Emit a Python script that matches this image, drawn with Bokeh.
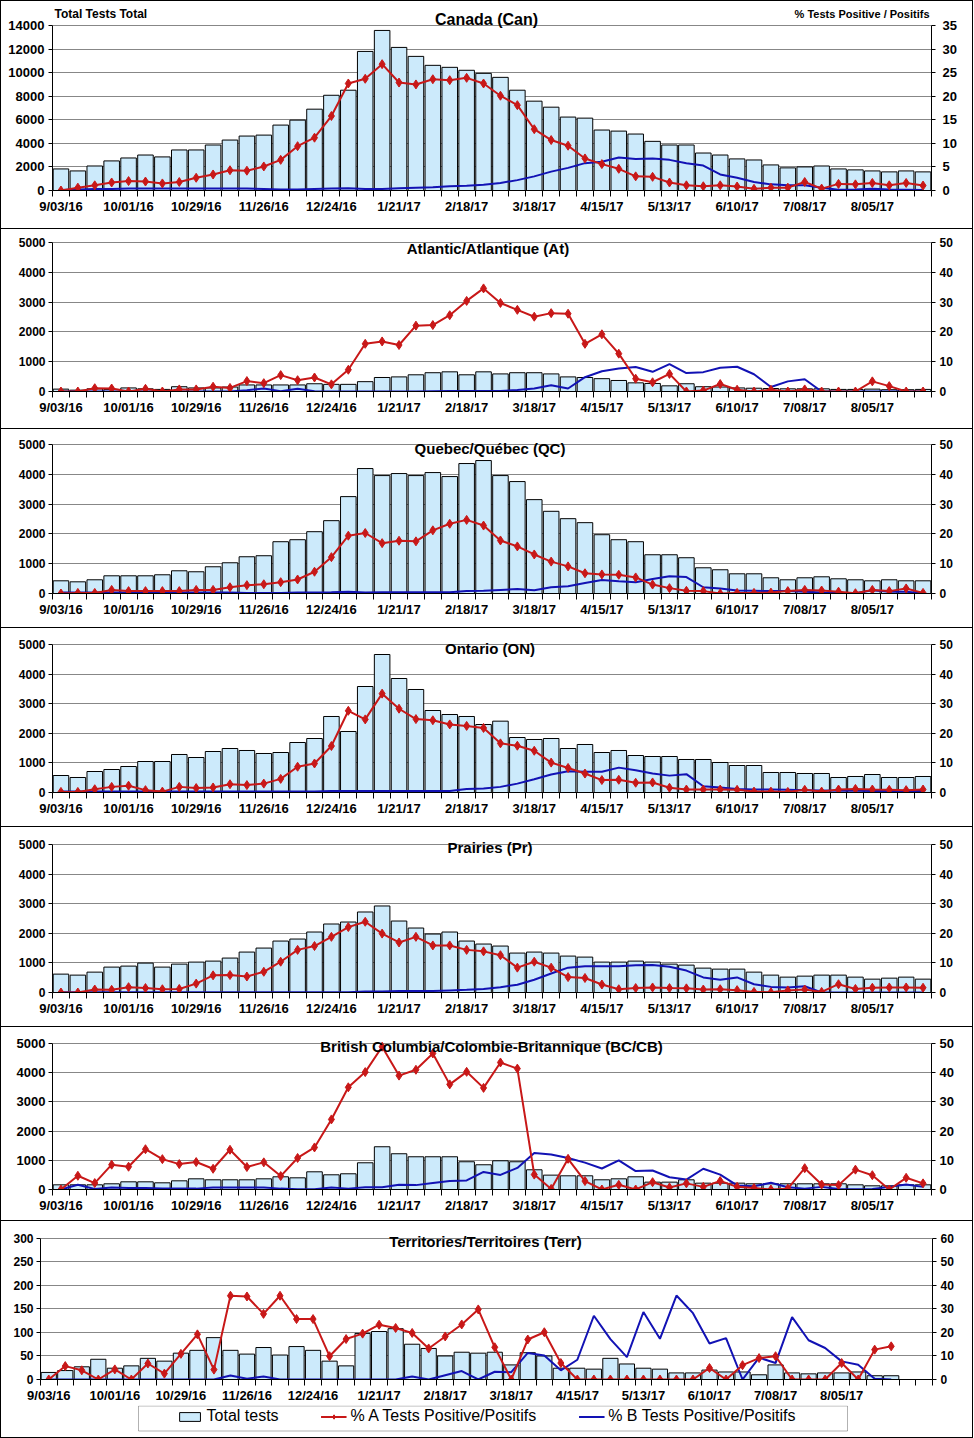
from bokeh.plotting import figure
from bokeh.models import (Range1d, LinearAxis, FixedTicker, SingleIntervalTicker,
                          Label, Legend, LegendItem, BoxAnnotation)
from bokeh.layouts import column
from bokeh.embed import file_html
from bokeh.resources import INLINE

# ---------------- data ----------------
tick_weeks = [0, 4, 8, 12, 16, 20, 24, 28, 32, 36, 40, 44, 48]
tick_labels = ["9/03/16", "10/01/16", "10/29/16", "11/26/16", "12/24/16", "1/21/17",
               "2/18/17", "3/18/17", "4/15/17", "5/13/17", "6/10/17", "7/08/17", "8/05/17"]

can_total = [1830, 1660, 2080, 2510, 2760, 3010, 2850, 3440, 3440, 3860, 4280, 4620, 4700,
             5550, 5970, 6900, 8080, 8510, 11800, 13580, 12140, 11380, 10620, 10450, 10200,
             9940, 9600, 8510, 7580, 7070, 6230, 6140, 5130, 5040, 4790, 4170, 3860, 3860,
             3180, 3010, 2680, 2590, 2170, 1920, 2000, 2080, 1830, 1750, 1660, 1580, 1660, 1580]
can_a = [0, 0.6, 1.1, 1.7, 2.0, 1.9, 1.5, 1.8, 2.7, 3.4, 4.3, 4.2, 5.1, 6.5, 9.4, 11.2, 15.8,
         22.7, 23.7, 26.8, 22.9, 22.5, 23.6, 23.4, 23.9, 22.7, 20.1, 18.1, 13.0, 10.7, 9.5,
         6.8, 5.6, 4.6, 3.0, 2.9, 1.7, 1.1, 0.9, 1.1, 0.85, 0.35, 0.6, 0.6, 1.8, 0.4, 1.4,
         1.3, 1.6, 1.1, 1.6, 1.05]
can_b = [0.1, 0.2, 0.3, 0.3, 0.4, 0.4, 0.4, 0.4, 0.4, 0.4, 0.4, 0.4, 0.3, 0.2, 0.2, 0.3, 0.4,
         0.5, 0.3, 0.3, 0.5, 0.6, 0.7, 0.9, 1.0, 1.2, 1.6, 2.2, 3.0, 4.0, 4.8, 5.8, 6.1, 7.0,
         6.7, 6.8, 6.5, 5.8, 5.3, 3.4, 2.7, 1.8, 1.3, 1.1, 1.1, 0.6, 0.15, 0.2, 0.35, 0.2,
         0.15, 0.1]

at_total = [80, 45, 90, 70, 120, 90, 70, 160, 120, 120, 150, 220, 220, 220, 220, 260, 240, 240,
            330, 470, 490, 560, 630, 660, 560, 660, 590, 630, 630, 590, 490, 470, 430, 370, 290,
            270, 190, 260, 160, 150, 120, 110, 100, 90, 90, 90, 70, 70, 80, 60, 60, 70]
at_a = [0, 0, 1.1, 1.0, 0, 0.9, 0, 0.7, 0.7, 1.6, 1.2, 3.5, 2.8, 5.5, 3.8, 4.7, 2.4, 7.3, 16.0,
        16.8, 15.6, 22.1, 22.3, 25.6, 30.4, 34.6, 29.7, 27.4, 25.1, 26.3, 26.1, 16.0, 19.2,
        12.7, 4.3, 3.1, 5.9, 0, 0.3, 2.5, 0.6, 0, 0.6, 0, 0.7, 0, 0, 0, 3.4, 1.8, 0, 0]
at_b = [0, 0, 0, 0, 0, 0, 0, 0, 0, 0, 0, 0.4, 1.0, 0.1, 0.9, 0.1, 0, 0, 0, 0, 0, 0, 0.1, 0.2,
        0.2, 0.2, 0.2, 0.5, 1.0, 2.1, 1.0, 4.8, 6.8, 7.7, 8.2, 6.6, 9.2, 6.2, 6.5, 8.0, 8.3,
        5.8, 1.5, 3.4, 4.1, 0, 0, 0, 0, 0, 0, 0]

qc_total = [426, 392, 460, 594, 594, 594, 628, 762, 729, 897, 1031, 1233, 1267, 1738, 1805,
            2074, 2444, 3251, 4193, 3957, 4025, 3957, 4058, 3924, 4361, 4462, 3957, 3756, 3150,
            2758, 2511, 2377, 1973, 1805, 1738, 1300, 1300, 1200, 863, 796, 661, 661, 527, 460,
            527, 560, 493, 460, 426, 460, 426, 426]
qc_a = [0, 0.2, 0.2, 1.2, 0.8, 0.8, 0.8, 0.8, 1.2, 1.2, 2.1, 2.8, 3.1, 3.8, 4.7, 7.3, 12.2,
        19.4, 20.3, 16.9, 17.7, 17.5, 21.2, 23.4, 24.7, 22.8, 17.8, 15.8, 13.1, 10.7, 9.1, 6.8,
        6.4, 6.3, 5.4, 3.0, 1.8, 0.9, 0.8, 0, 0.2, 0.2, 0.3, 0.8, 1.2, 1.0, 0.6, 0.1, 1.2, 0.8,
        1.7, 0.2]
qc_b = [0.3, 0.3, 0.3, 0.3, 0.3, 0.3, 0.3, 0.3, 0.3, 0.3, 0.3, 0.2, 0.2, 0.2, 0.3, 0.3, 0.4,
        0.6, 0.3, 0.4, 0.4, 0.4, 0.4, 0.4, 0.8, 0.9, 1.2, 1.5, 1.1, 2.1, 2.4, 3.5, 4.5, 4.1,
        3.8, 4.9, 5.8, 5.5, 2.1, 1.7, 1.0, 0.9, 0.8, 0.8, 0.6, 0.3, 0.2, 0.1, 1.1, 0.6, 0.6, 0.1]

on_total = [574, 507, 709, 777, 878, 1047, 1047, 1284, 1182, 1385, 1486, 1419, 1318, 1351,
            1689, 1824, 2568, 2061, 3581, 4662, 3851, 3480, 2770, 2635, 2568, 2297, 2410, 1858,
            1791, 1824, 1486, 1622, 1351, 1419, 1250, 1216, 1216, 1115, 1115, 1014, 912, 912,
            676, 676, 642, 642, 507, 541, 608, 507, 507, 541]
on_a = [0.2, 0.2, 1.1, 1.9, 2.3, 0.8, 0.3, 1.9, 1.5, 1.7, 2.8, 2.5, 3.0, 4.6, 8.7, 9.8, 15.7,
        27.6, 24.7, 33.4, 28.3, 24.8, 24.4, 23.0, 22.5, 21.8, 16.6, 15.8, 14.1, 10.1, 8.3, 6.4,
        4.2, 4.3, 3.3, 3.4, 1.6, 1.0, 1.0, 1.0, 0.9, 0.3, 0.3, 0.2, 0.9, 0.3, 1.0, 1.2, 1.0,
        0.9, 0.8, 1.0]
on_b = [0.3, 0.3, 0.3, 0.3, 0.3, 0.3, 0.3, 0.3, 0.3, 0.3, 0.3, 0.3, 0.3, 0.3, 0.3, 0.3, 0.5,
        0.5, 0.5, 0.5, 0.5, 0.5, 0.5, 0.5, 1.2, 1.35, 1.9, 3.0, 4.5, 6.1, 7.2, 7.0, 7.0, 8.4,
        7.5, 6.4, 5.7, 6.2, 2.1, 1.7, 1.2, 1.0, 1.0, 0.9, 0.8, 0.7, 0.6, 0.6, 0.5, 0.5, 0.5, 0.5]

pr_total = [621, 587, 688, 858, 892, 993, 858, 959, 1027, 1061, 1163, 1366, 1501, 1738, 1806,
            2043, 2314, 2381, 2720, 2923, 2415, 2178, 1975, 2043, 1738, 1637, 1569, 1332, 1366,
            1332, 1230, 1196, 1027, 1027, 1061, 1027, 959, 925, 824, 790, 790, 688, 587, 519,
            553, 587, 587, 519, 451, 485, 519, 451]
pr_a = [0, 0, 1.0, 0.9, 1.8, 1.5, 1.1, 1.2, 3.0, 5.8, 5.9, 5.4, 7.0, 10.4, 14.4, 15.7, 18.8,
        22.1, 23.9, 19.9, 16.9, 18.8, 15.9, 15.9, 14.4, 13.9, 12.6, 8.4, 10.4, 8.4, 5.2, 4.9,
        2.7, 1.1, 1.5, 1.7, 1.5, 1.4, 1.0, 1.1, 0.8, 0.2, 0.1, 0.7, 1.0, 0.2, 2.8, 1.2, 1.6,
        1.7, 1.7, 1.6]
pr_b = [0.1, 0.1, 0.1, 0.1, 0.1, 0.1, 0.1, 0.1, 0.1, 0.1, 0.1, 0.1, 0.1, 0.1, 0.1, 0.1, 0.1,
        0.1, 0.3, 0.3, 0.5, 0.5, 0.5, 0.7, 0.9, 1.2, 1.8, 2.6, 4.3, 6.4, 8.4, 8.9, 8.9, 8.9,
        9.2, 9.3, 8.7, 7.4, 5.1, 4.3, 5.1, 2.8, 1.9, 1.7, 2.1, 0, 0, 0, 0, 0, 0, 0]

bc_total = [160, 160, 160, 195, 263, 263, 229, 297, 366, 332, 332, 332, 366, 435, 400, 606,
            503, 538, 915, 1464, 1224, 1121, 1121, 1121, 950, 847, 984, 950, 675, 492, 469, 469,
            332, 366, 435, 252, 252, 332, 217, 217, 217, 195, 195, 195, 195, 195, 195, 160, 126,
            126, 160, 160]
bc_a = [0, 4.7, 2.2, 8.5, 7.8, 13.8, 10.4, 8.7, 9.4, 7.1, 13.6, 7.7, 9.3, 4.6, 10.8, 14.4,
        24.0, 35.0, 40.2, 48.9, 39.0, 41.0, 46.6, 36.0, 40.3, 34.8, 43.5, 41.4, 5.1, 0.2, 10.5,
        2.9, 0, 1.6, 0, 2.5, 0.7, 2.1, 0.9, 2.9, 0.9, 0.5, 0, 0.3, 7.3, 1.7, 1.5, 6.8, 4.9, 0,
        4.0, 2.1]
bc_b = [0, 1.6, 0.2, 0.7, 0.5, 0.5, 0.3, 0.3, 0.3, 0.7, 0.7, 0.7, 0.7, 0.3, 0.1, 0.1, 0.7,
        0.3, 0.8, 0.8, 1.6, 1.5, 2.2, 2.9, 3.1, 6.0, 5.0, 7.4, 12.5, 12.0, 10.8, 9.2, 7.2, 10.0,
        6.3, 6.5, 4.2, 3.4, 7.1, 5.1, 1.4, 1.1, 2.3, 0.8, 0.3, 0.9, 0.2, 0.1, 0.2, 0.9, 1.7, 0.9]

terr_total = [15, 19, 27, 43, 24, 29, 45, 39, 56, 62, 89, 62, 54, 68, 52, 70, 62, 39, 29, 98,
              102, 108, 75, 66, 50, 58, 56, 58, 31, 57, 50, 24, 24, 22, 45, 33, 24, 22, 14, 14,
              20, 16, 16, 10, 31, 14, 12, 14, 14, 16, 8, 8]
terr_a = [0, 5.7, 3.9, 0, 4.3, 0, 6.8, 2.5, 10.9, 19.2, 4.2, 35.6, 35.3, 27.9, 35.6, 25.7,
          25.7, 9.9, 17.2, 19.5, 23.3, 21.9, 19.8, 13.2, 18.3, 23.4, 29.8, 13.7, 0, 17.0, 20.1,
          7.0, 0, 0, 0, 0, 0, 0, 0, 0, 4.9, 0, 6.1, 9.1, 9.9, 0, 0, 0, 7.0, 0, 12.7, 14.1]
terr_b = [0, 0, 0, 0, 0, 0, 0, 0, 0, 0, 0, 1.7, 0.3, 1.3, 0, 0, 0, 0, 0, 0, 0, 0, 1.3, 0, 1.8,
          3.6, 0, 3.3, 3.1, 11.3, 10.2, 3.9, 8.4, 27.1, 17.2, 9.5, 28.7, 17.3, 35.7, 28.2, 15.3,
          17.6, 0, 9.3, 7.0, 26.5, 16.7, 13.4, 7.7, 6.3, 0.3, 0]

legend_labels = ["Total tests", "% A Tests Positive/Positifs", "% B Tests Positive/Positifs"]

# ---------------- style ----------------
W = 971
FONT = "Liberation Sans"
BAR_FILL = "#CCEAFB"
RED = "#C81818"
BLUE = "#1212B4"
GRID = "#878787"
BOX = {"outline": "1px solid black"}


def build(title, total, pa, pb, n_cat, lmax, lstep, rmax, rstep, height, l, r,
          tick_top, frame_bottom, ext, title_dy, title_size, ylab_size,
          lstand=3, rstand=4, canada=False):
    t = tick_top - ext
    b = height - frame_bottom
    span = frame_bottom - tick_top
    fw = W - l - r
    p = figure(width=W, height=height, x_range=Range1d(-0.5, n_cat - 0.5),
               y_range=Range1d(0, lmax * (1 + ext / span)), output_backend="svg",
               toolbar_location=None, min_border_left=l, min_border_right=r,
               min_border_top=t, min_border_bottom=b)
    p.outline_line_color = None
    p.xgrid.visible = False
    lax = p.yaxis[0]
    lt = SingleIntervalTicker(interval=lstep, num_minor_ticks=0)
    lax.ticker = lt
    lax.bounds = (0, lmax)
    p.ygrid[0].ticker = lt
    p.ygrid.grid_line_color = GRID
    p.ygrid.grid_line_width = 1
    p.extra_y_ranges = {"pct": Range1d(0, rmax * (1 + ext / span))}
    rax = LinearAxis(y_range_name="pct", bounds=(0, rmax),
                     ticker=SingleIntervalTicker(interval=rstep, num_minor_ticks=0))
    p.add_layout(rax, "right")
    for ax, st in ((lax, lstand), (rax, rstand)):
        ax.axis_line_color = "black"
        ax.major_tick_line_color = "black"
        ax.major_tick_out = 4
        ax.major_tick_in = 0
        ax.minor_tick_line_color = None
        ax.major_label_standoff = st
        ax.major_label_text_font = FONT
        ax.major_label_text_font_style = "bold"
        ax.major_label_text_font_size = ylab_size
        ax.major_label_text_color = "black"
    xa = p.xaxis[0]
    xa.ticker = FixedTicker(ticks=tick_weeks,
                            minor_ticks=[i - 0.5 for i in range(n_cat + 1)])
    xa.major_label_overrides = {w: s for w, s in zip(tick_weeks, tick_labels)}
    xa.axis_line_color = "black"
    xa.major_tick_out = 0
    xa.major_tick_in = 0
    xa.minor_tick_out = 6
    xa.minor_tick_in = 0
    xa.minor_tick_line_color = "black"
    xa.major_label_standoff = 2
    xa.major_label_text_font = FONT
    xa.major_label_text_font_style = "bold"
    xa.major_label_text_font_size = "13px"
    xa.major_label_text_color = "black"

    x = list(range(len(total)))
    p.vbar(x=x, top=total, width=0.92, fill_color=BAR_FILL, line_color="black", line_width=1)
    p.line(x, pb, y_range_name="pct", line_color=BLUE, line_width=2)
    p.line(x, pa, y_range_name="pct", line_color=RED, line_width=2)
    p.scatter(x, pa, y_range_name="pct", marker="diamond", size=9,
              fill_color=RED, line_color=RED)

    def dx(px_fig):
        return -0.5 + (px_fig - l) * n_cat / fw

    def dy(py_fig):
        return lmax - (py_fig - tick_top) * lmax / span

    p.add_layout(Label(x=dx(486), y=dy(tick_top + title_dy), text=title, text_align="center",
                       text_baseline="middle", text_font=FONT, text_font_style="bold",
                       text_font_size=title_size, text_color="black"))
    if canada:
        p.add_layout(Label(x=dx(l + 2), y=dy(12), text="Total Tests Total", text_align="left",
                           text_baseline="middle", text_font=FONT, text_font_style="bold",
                           text_font_size="12px", text_color="black"))
        p.add_layout(Label(x=dx(W - r - 2), y=dy(12), text="% Tests Positive / Positifs",
                           text_align="right", text_baseline="middle", text_font=FONT,
                           text_font_style="bold", text_font_size="11px", text_color="black"))
    return p


can = build("Canada (Can)", can_total, can_a, can_b, 52, 14000, 2000, 35, 5, 227,
            51, 39, 24, 189, 24, -6, "16px", "13px", lstand=4, rstand=7, canada=True)
atl = build("Atlantic/Atlantique  (At)", at_total, at_a, at_b, 52, 5000, 1000, 50, 10, 199,
            46, 41, 13, 162, 8, 6, "15px", "12px")
que = build("Quebec/Québec (QC)", qc_total, qc_a, qc_b, 52, 5000, 1000, 50, 10, 198,
            46, 41, 15, 164, 8, 4, "15px", "12px")
ont = build("Ontario (ON)", on_total, on_a, on_b, 52, 5000, 1000, 50, 10, 198,
            46, 41, 16, 164, 8, 4, "15px", "12px")
pra = build("Prairies (Pr)", pr_total, pr_a, pr_b, 52, 5000, 1000, 50, 10, 199,
            46, 41, 17, 165, 8, 3, "15px", "12px")
bcc = build("British Columbia/Colombie-Britannique (BC/CB)", bc_total, bc_a, bc_b, 52, 5000,
            1000, 50, 10, 193, 42, 40, 16, 162, 8, 3, "15px", "13px")
TL, TR = 39, 40
ter = build("Territories/Territoires  (Terr)", terr_total, terr_a, terr_b, 54, 300, 50, 60, 10,
            184, TL, TR, 17, 160, 8, 3, "15px", "12px")

# legend strip under the Territories chart (frame aligned with the chart above;
# x range expressed in page pixels so the legend box can be placed directly)
LH = 32
lf = figure(width=W, height=LH, x_range=Range1d(TL + 1, W - TR + 1), y_range=Range1d(0, LH),
            output_backend="svg", toolbar_location=None, min_border=0,
            min_border_left=TL, min_border_right=TR, min_border_top=0, min_border_bottom=0,
            x_axis_location=None, y_axis_location=None)
lf.grid.visible = False
lf.outline_line_color = None
lb = lf.vbar(x=[500], top=[10], width=5, fill_color=BAR_FILL, line_color="black", visible=False)
ll = lf.line([500, 510], [10, 10], line_color=RED, line_width=2, visible=False)
ls = lf.scatter([500], [10], marker="diamond", size=9, fill_color=RED, line_color=RED,
                visible=False)
lbl = lf.line([500, 510], [10, 10], line_color=BLUE, line_width=2, visible=False)
lg = Legend(items=[LegendItem(label=legend_labels[0], renderers=[lb]),
                   LegendItem(label=legend_labels[1], renderers=[ll, ls]),
                   LegendItem(label=legend_labels[2], renderers=[lbl])],
            orientation="horizontal", location="top_center")
lg.label_text_font = FONT
lg.label_text_font_size = "16px"
lg.label_text_color = "black"
lg.border_line_color = None
lg.background_fill_alpha = 0
lg.inactive_fill_alpha = 0
lg.padding = 2
lg.spacing = 42
lg.margin = 2
lg.label_standoff = 4
lg.glyph_width = 26
lg.glyph_height = 11
lg.label_height = 17
lf.add_layout(lg)
# legend frame box (about 138..847 x, 1404..1429 y in the page)
lf.add_layout(BoxAnnotation(left=138, right=847, top=LH - 0.5, bottom=LH - 25.5,
                            fill_color=None, line_color="black", line_width=1))

for f in (can, atl, que, ont, pra, bcc):
    f.styles = BOX
terr_box = column(ter, lf, spacing=0, styles=BOX)

layout = column(can, atl, que, ont, pra, bcc, terr_box, spacing=1,
                styles={"padding": "1px"})
open("out.html", "w").write(file_html(layout, INLINE))
